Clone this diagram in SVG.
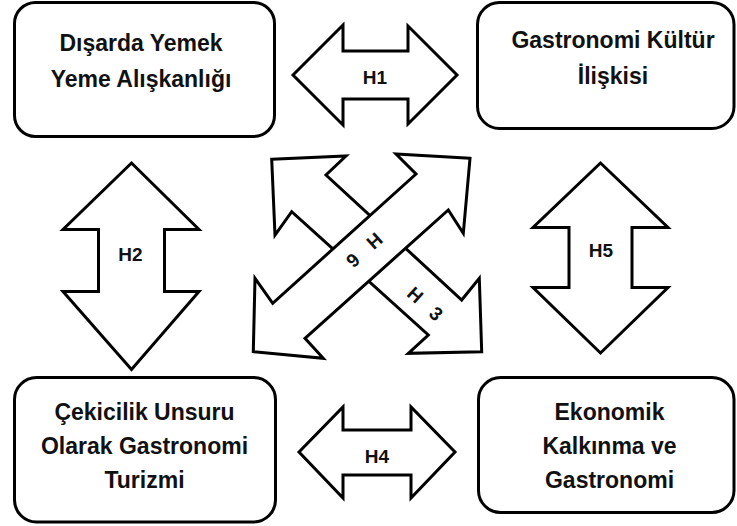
<svg xmlns="http://www.w3.org/2000/svg" width="737" height="526" viewBox="0 0 737 526">
  <style>
    .box { fill: #fff; stroke: #000; stroke-width: 3; }
    .arr { fill: #fff; stroke: #000; stroke-width: 3; stroke-linejoin: miter; }
    .t { font-family: "Liberation Sans", Arial, sans-serif; font-weight: bold; font-size: 23px; fill: #111; text-anchor: middle; }
    .h { font-family: "Liberation Sans", Arial, sans-serif; font-weight: bold; font-size: 19px; fill: #111; text-anchor: middle; }
  </style>
  <rect width="737" height="526" fill="#fff"/>

  <!-- Nodes -->
  <g id="node-disarda-yemek">
    <rect class="box" x="14.5" y="2.5" width="260" height="134" rx="21"/>
    <text class="t" x="141" y="51">Dışarda Yemek</text>
    <text class="t" x="141" y="87">Yeme Alışkanlığı</text>
  </g>
  <g id="node-gastronomi-kultur">
    <rect class="box" x="477.5" y="2.5" width="256.5" height="126" rx="22"/>
    <text class="t" x="613" y="48">Gastronomi Kültür</text>
    <text class="t" x="613" y="84">İlişkisi</text>
  </g>
  <g id="node-cekicilik">
    <rect class="box" x="14.5" y="377.5" width="261" height="144.5" rx="22"/>
    <text class="t" x="144.5" y="420">Çekicilik Unsuru</text>
    <text class="t" x="144.5" y="454">Olarak Gastronomi</text>
    <text class="t" x="144.5" y="488">Turizmi</text>
  </g>
  <g id="node-ekonomik">
    <rect class="box" x="478.5" y="377.5" width="255.5" height="135" rx="22"/>
    <text class="t" x="609.5" y="420">Ekonomik</text>
    <text class="t" x="609.5" y="454">Kalkınma ve</text>
    <text class="t" x="609.5" y="488">Gastronomi</text>
  </g>

  <!-- Connectors: double-headed block arrows -->
  <g id="connectors">
    <!-- H1 -->
    <polygon class="arr" points="293,75 343,25 343,51 408,51 408,26 457,75 408,124 408,99 343,99 343,125"/>
    <text class="h" x="375" y="83.5">H1</text>

    <!-- H4 -->
    <polygon class="arr" points="299,452 343,407 343,430 411,430 411,407 455,452 411,498 411,475 343,475 343,498"/>
    <text class="h" x="377" y="463">H4</text>

    <!-- H2 -->
    <polygon class="arr" points="131.5,163 199,229.5 164.5,229.5 164.5,291.5 199,291.5 131.5,369.5 63,291.5 98.5,291.5 98.5,229.5 63,229.5"/>
    <text class="h" x="130.5" y="261">H2</text>

    <!-- H5 -->
    <polygon class="arr" points="600.5,163 668,227.5 632,227.5 632,287.5 668,287.5 600.5,353 533,287.5 569,287.5 569,227.5 533,227.5"/>
    <text class="h" x="601" y="257">H5</text>

    <!-- H3: NW-SE diagonal (drawn first, passes under H6) -->
    <polygon class="arr" points="271.7,159.3 346,156 326,175 461.7,300 479.3,278.3 481.7,351.7 408.3,353.3 428.3,335 291.7,211.7 275,235"/>
    <!-- H6: SW-NE diagonal -->
    <polygon class="arr" points="470,158.3 396,154 416,174 272.7,303.3 255,278.3 253.3,351.7 323.3,358.3 305,338.3 448.3,210 463.3,233.3"/>

    <text class="h" transform="translate(364,251) rotate(138)" dominant-baseline="central"><tspan x="-14.5">H</tspan><tspan x="14.5">6</tspan></text>
    <text class="h" transform="translate(426,304) rotate(42)" dominant-baseline="central"><tspan x="-14">H</tspan><tspan x="14">3</tspan></text>
  </g>
</svg>
